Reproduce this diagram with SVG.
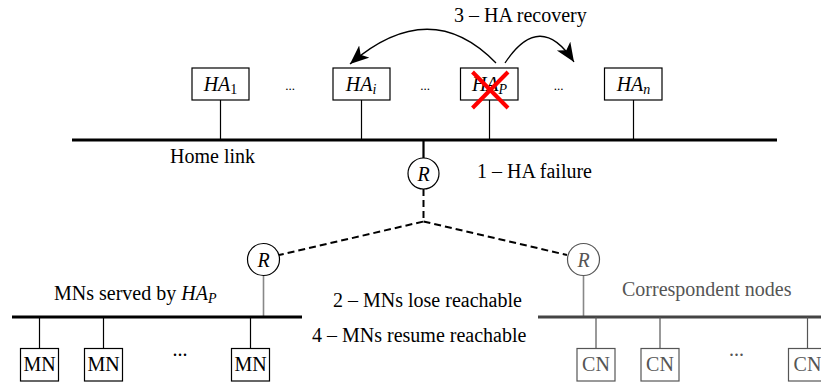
<svg xmlns="http://www.w3.org/2000/svg" width="821" height="382" viewBox="0 0 821 382">
<defs>
<style>
text{font-family:"Liberation Serif","Times New Roman",serif;font-size:20px;fill:#000}
.it{font-style:italic}
.sub{font-size:14px}
.box{fill:#fff;stroke:#000;stroke-width:1.2}
.gbox{fill:#fff;stroke:#555;stroke-width:1.2}
.stem{stroke:#000;stroke-width:1.2;fill:none}
.gstem{stroke:#555;stroke-width:1.2;fill:none}
.lstem{stroke:#888;stroke-width:1.6;fill:none}
.bus{stroke:#000;stroke-width:3;fill:none}
.gbus{stroke:#444;stroke-width:3;fill:none}
.dash{stroke:#000;stroke-width:2;stroke-dasharray:7,4;fill:none}
.arc{stroke:#000;stroke-width:1.3;fill:none}
.rt{fill:#fff;stroke:#000;stroke-width:1.2}
.grt{fill:#fff;stroke:#555;stroke-width:1.2}
.gt{fill:#555}
.dots{font-size:13px}
</style>
<marker id="ah" markerUnits="userSpaceOnUse" markerWidth="22" markerHeight="18" refX="19" refY="8" orient="auto">
<path d="M0,0 L19,8 L0,16 L5,8 z" fill="#000"/>
</marker>
</defs>

<g id="connectors">
<line class="bus" x1="72" y1="140" x2="777" y2="140"/>
<line class="stem" x1="220.5" y1="100" x2="220.5" y2="140"/>
<line class="stem" x1="361.5" y1="100" x2="361.5" y2="140"/>
<line class="stem" x1="489.5" y1="100" x2="489.5" y2="140"/>
<line class="stem" x1="633.5" y1="100" x2="633.5" y2="140"/>
<line x1="423.5" y1="140" x2="423.5" y2="158" stroke="#000" stroke-width="2.2"/>
<path class="dash" d="M423.5,189 L423.5,221.5 L279,255"/>
<path class="dash" d="M423.5,221.5 L567,255"/>
<line class="lstem" x1="263.5" y1="275" x2="263.5" y2="317"/>
<line class="lstem" x1="583.5" y1="275" x2="583.5" y2="317"/>
<line class="bus" x1="12" y1="317" x2="302" y2="317"/>
<line class="gbus" x1="538" y1="317" x2="821" y2="317"/>
<line class="stem" x1="39.5" y1="317" x2="39.5" y2="348"/>
<line class="stem" x1="103.5" y1="317" x2="103.5" y2="348"/>
<line class="stem" x1="250.5" y1="317" x2="250.5" y2="348"/>
<line class="gstem" x1="596" y1="317" x2="596" y2="348"/>
<line class="gstem" x1="660" y1="317" x2="660" y2="348"/>
<line class="gstem" x1="807.5" y1="317" x2="807.5" y2="348"/>
<path class="arc" d="M496,63 Q430,-5 350,64" marker-end="url(#ah)"/>
<path class="arc" d="M505,63 Q540,10 574,62" marker-end="url(#ah)"/>
</g>

<g id="ha1">
<rect class="box" x="192" y="68" width="57" height="32"/>
<text x="220.5" y="91" text-anchor="middle"><tspan class="it">HA</tspan><tspan class="sub" dy="3">1</tspan></text>
</g>
<g id="hai">
<rect class="box" x="333" y="68" width="57" height="32"/>
<text x="361" y="91" text-anchor="middle"><tspan class="it">HA</tspan><tspan class="sub it" dy="3">i</tspan></text>
</g>
<g id="hap">
<rect class="box" x="460.5" y="68" width="57.5" height="32"/>
<text x="489.5" y="91" text-anchor="middle"><tspan class="it">HA</tspan><tspan class="sub it" dy="3">P</tspan></text>
<line x1="472.5" y1="72" x2="508" y2="108" stroke="#f00" stroke-width="4"/>
<line x1="508" y1="72" x2="472.5" y2="108" stroke="#f00" stroke-width="4"/>
</g>
<g id="han">
<rect class="box" x="604.5" y="68" width="57.5" height="32"/>
<text x="633.5" y="91" text-anchor="middle"><tspan class="it">HA</tspan><tspan class="sub it" dy="3">n</tspan></text>
</g>
<g id="dots-ha">
<text class="dots" x="290" y="90" text-anchor="middle">...</text>
<text class="dots" x="425" y="90" text-anchor="middle">...</text>
<text class="dots" x="558.5" y="90" text-anchor="middle">...</text>
</g>

<g id="router-home">
<circle class="rt" cx="423.5" cy="173.5" r="15.5"/>
<text class="it" x="423.5" y="180.5" text-anchor="middle">R</text>
</g>
<g id="router-mn">
<circle class="rt" cx="263.5" cy="259.5" r="16"/>
<text class="it" x="263.5" y="266.5" text-anchor="middle">R</text>
</g>
<g id="router-cn">
<circle class="grt" cx="583.5" cy="259.5" r="16"/>
<text class="it gt" x="583.5" y="266.5" text-anchor="middle">R</text>
</g>

<g id="mn1"><rect class="box" x="20.5" y="348.5" width="38" height="32.5"/><text x="39.5" y="371" text-anchor="middle">MN</text></g>
<g id="mn2"><rect class="box" x="84.5" y="348.5" width="38" height="32.5"/><text x="103.5" y="371" text-anchor="middle">MN</text></g>
<g id="mn3"><rect class="box" x="231.5" y="348.5" width="38" height="32.5"/><text x="250.5" y="371" text-anchor="middle">MN</text></g>
<g id="cn1"><rect class="gbox" x="577" y="348.5" width="38" height="32.5"/><text class="gt" x="596" y="371" text-anchor="middle">CN</text></g>
<g id="cn2"><rect class="gbox" x="641" y="348.5" width="38" height="32.5"/><text class="gt" x="660" y="371" text-anchor="middle">CN</text></g>
<g id="cn3"><rect class="gbox" x="788.5" y="348.5" width="38" height="32.5"/><text class="gt" x="807.5" y="371" text-anchor="middle">CN</text></g>
<text x="180" y="356" text-anchor="middle">...</text>
<text class="gt" x="736.5" y="356" text-anchor="middle">...</text>

<g id="labels">
<text x="454" y="22" font-size="19">3 – HA recovery</text>
<text x="170" y="163">Home link</text>
<text x="477" y="178">1 – HA failure</text>
<text x="54" y="300">MNs served by <tspan class="it">HA</tspan><tspan class="sub it" dy="3">P</tspan></text>
<text x="333" y="307" font-size="18.5">2 – MNs lose reachable</text>
<text x="312" y="342" font-size="18.5">4 – MNs resume reachable</text>
<text class="gt" x="622" y="296">Correspondent nodes</text>
</g>
</svg>
